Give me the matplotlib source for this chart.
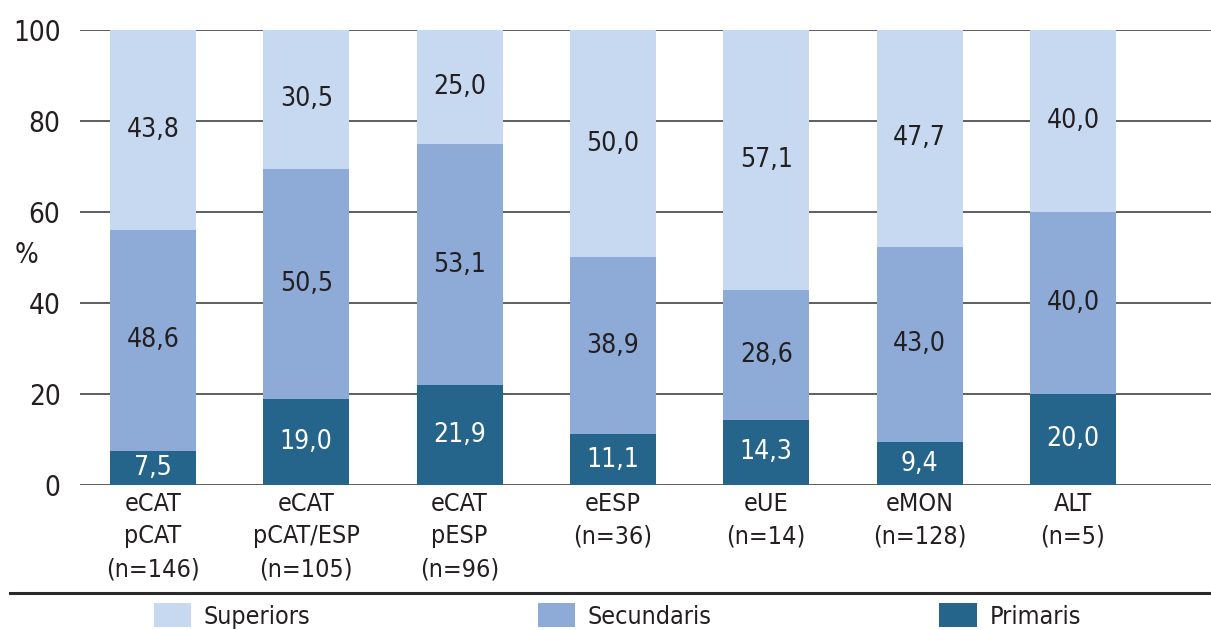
import numpy as np
import matplotlib.pyplot as plt
from matplotlib.lines import Line2D

plt.rcParams['font.family'] = ['DejaVu Sans']
plt.rcParams['font.stretch'] = 'condensed'

categories = ['eCAT\npCAT\n(n=146)', 'eCAT\npCAT/ESP\n(n=105)', 'eCAT\npESP\n(n=96)',
              'eESP\n(n=36)', 'eUE\n(n=14)', 'eMON\n(n=128)', 'ALT\n(n=5)']
primaris   = [7.5, 19.0, 21.9, 11.1, 14.3, 9.4, 20.0]
secundaris = [48.6, 50.5, 53.1, 38.9, 28.6, 43.0, 40.0]
superiors  = [43.8, 30.5, 25.0, 50.0, 57.1, 47.7, 40.0]

c_sup = '#c6d9f1'
c_sec = '#8eaad7'
c_pri = '#26658b'
txt   = '#231f20'

fig = plt.figure(figsize=(12.11, 6.3), dpi=100)
ax = fig.add_axes([0.066, 0.2302, 0.934, 0.7222])

x = np.arange(len(categories))
w = 0.56
pri = np.array(primaris)
sec = np.array(secundaris)
sup = np.array(superiors)

ax.set_axisbelow(True)
ax.grid(axis='y', color='#333333', lw=1.1)
b1 = ax.bar(x, pri, w, color=c_pri, label='Primaris', zorder=3)
b2 = ax.bar(x, sec, w, bottom=pri, color=c_sec, label='Secundaris', zorder=3)
b3 = ax.bar(x, sup, w, bottom=pri + sec, color=c_sup, label='Superiors', zorder=3)

def fmt(v):
    return f'{v:.1f}'.replace('.', ',')

for i in x:
    ax.text(i, pri[i] / 2, fmt(pri[i]), ha='center', va='center', color='white', fontsize=19, zorder=4)
    ax.text(i, pri[i] + sec[i] / 2, fmt(sec[i]), ha='center', va='center', color=txt, fontsize=19, zorder=4)
    ax.text(i, pri[i] + sec[i] + sup[i] / 2, fmt(sup[i]), ha='center', va='center', color=txt, fontsize=19, zorder=4)

ax.set_xlim(-0.476, 6.9)
ax.set_ylim(0, 100)
ax.set_yticks([0, 20, 40, 60, 80, 100])
ax.set_xticks(x)
ax.set_xticklabels(categories, fontsize=18, color=txt, linespacing=1.45)
ax.tick_params(axis='y', length=0, pad=14, labelsize=20, labelcolor=txt)
ax.tick_params(axis='x', length=0, pad=5)
for s in ax.spines.values():
    s.set_visible(False)

fig.text(0.012, 0.595, '%', fontsize=20, color=txt, ha='left', va='center')

fig.add_artist(Line2D([0.008, 1.0], [0.059, 0.059], color='#2a2a2a', lw=2.2))

fig.legend([b3, b2, b1], ['Superiors', 'Secundaris', 'Primaris'], ncol=3,
           loc='lower left', bbox_to_anchor=(0.1165, -0.018), frameon=False,
           fontsize=18, handlelength=1.5, handleheight=1.1, handletextpad=0.5,
           columnspacing=9.1, borderpad=0, labelcolor=txt)

fig.savefig('out.png', dpi=100)
